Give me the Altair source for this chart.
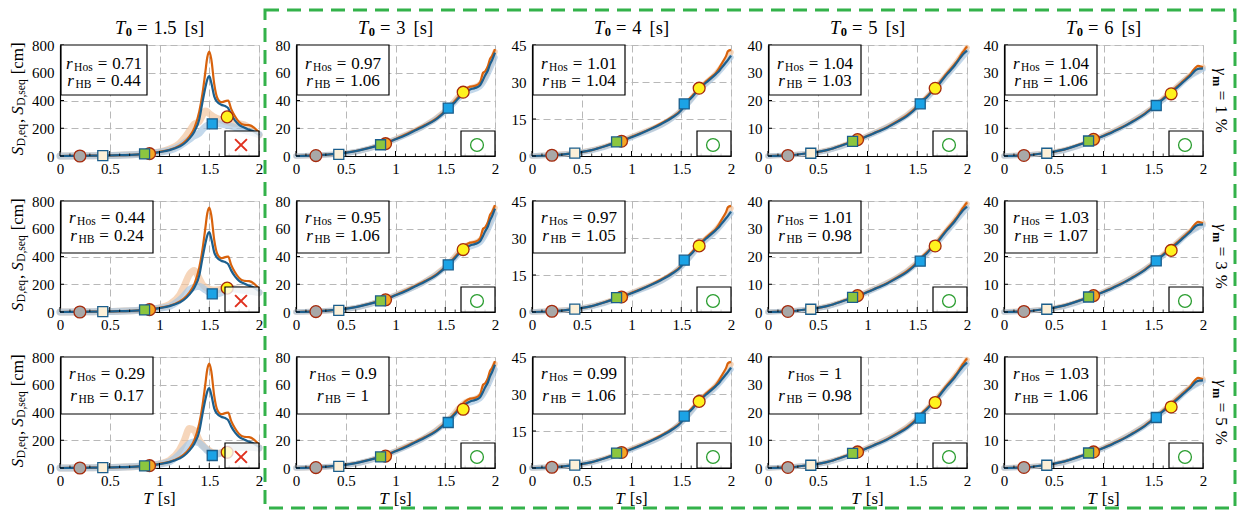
import altair as alt
import pandas as pd

FONT = "Liberation Serif"
W, H = 199, 111
COL_GAP, ROW_GAP = 37, 45

T0_VALUES = ["1.5", "3", "4", "5", "6"]
GAMMA_VALUES = ["1", "3", "5"]
Y_MAX = [800, 80, 45, 40, 40]
Y_TICKS = [[0, 200, 400, 600, 800], [0, 20, 40, 60, 80], [0, 15, 30, 45],
           [0, 10, 20, 30, 40], [0, 10, 20, 30, 40]]
X_MAJOR = [0, 0.5, 1, 1.5, 2]
X_MINOR = [0.1, 0.2, 0.3, 0.4, 0.6, 0.7, 0.8, 0.9, 1.1, 1.2, 1.3, 1.4, 1.6, 1.7, 1.8, 1.9]

R_HOS = [["0.71", "0.97", "1.01", "1.04", "1.04"],
         ["0.44", "0.95", "0.97", "1.01", "1.03"],
         ["0.29", "0.9", "0.99", "1", "1.03"]]
R_HB = [["0.44", "1.06", "1.04", "1.03", "1.06"],
        ["0.24", "1.06", "1.05", "0.98", "1.07"],
        ["0.17", "1", "1.06", "0.98", "1.06"]]
PASS = [False, True, True, True, True]

# ---- T0 = 1.5 s : spectra
T_A = [0, 0.2, 0.4, 0.6, 0.8, 0.9, 1.0, 1.1, 1.2, 1.25, 1.3, 1.35, 1.4, 1.43, 1.46, 1.48,
       1.5, 1.52, 1.55, 1.58, 1.62, 1.66, 1.69, 1.72, 1.76, 1.8, 1.85, 1.9, 1.95, 2.0]
SEQ_A = [0, 1, 3, 6, 12, 18, 30, 45, 75, 100, 140, 200, 320, 440, 600, 710,
         752, 700, 520, 420, 388, 395, 400, 340, 285, 245, 225, 222, 205, 170]
EQ_A = [0, 1, 3, 6, 12, 17, 28, 42, 68, 90, 125, 175, 265, 380, 490, 550,
        575, 530, 430, 390, 370, 360, 345, 300, 255, 225, 205, 190, 175, 150]
BAND_SEQ_A = [
    [0, 1, 3, 6, 12, 18, 30, 50, 90, 130, 180, 230, 250, 290, 325, 320,
     305, 295, 280, 270, 260, 250, 245, 240, 235, 232, 225, 205, 180, 150],
    [0, 1, 3, 6, 12, 18, 30, 55, 120, 190, 270, 300, 240, 200, 180, 170,
     165, 160, 158, 160, 165, 172, 175, 172, 168, 165, 160, 155, 148, 140],
    [0, 1, 3, 6, 12, 18, 30, 55, 130, 200, 285, 270, 200, 170, 145, 135,
     125, 115, 108, 105, 110, 120, 130, 140, 148, 150, 150, 150, 148, 145],
]
BAND_EQ_A = [
    [0, 1, 3, 6, 12, 17, 28, 40, 70, 95, 120, 145, 165, 190, 210, 220,
     225, 230, 235, 235, 230, 225, 220, 215, 205, 195, 185, 175, 165, 155],
    [0, 1, 3, 6, 12, 17, 28, 40, 85, 120, 160, 180, 185, 175, 160, 150,
     142, 135, 130, 130, 138, 155, 168, 170, 165, 160, 155, 150, 145, 140],
    [0, 1, 3, 6, 12, 17, 28, 45, 100, 140, 175, 190, 180, 160, 140, 125,
     115, 105, 100, 100, 108, 120, 135, 145, 150, 150, 150, 150, 148, 145],
]

# ---- T0 = 3, 4, 5, 6 s : spectra
T_B = [0, 0.2, 0.4, 0.6, 0.8, 0.9, 1.0, 1.1, 1.2, 1.3, 1.4, 1.5, 1.55, 1.6, 1.65,
       1.7, 1.75, 1.8, 1.85, 1.88, 1.9, 1.93, 1.95, 1.97, 2.0]
EQ_B = [
    [0, 0.5, 1.5, 3.5, 7, 9, 12, 15, 18.5, 22, 26, 32, 35.5, 39, 43, 46, 48, 49, 51, 55, 58, 62, 66, 69, 74.5],
    [0, 0.3, 1.1, 2.4, 4.8, 6.0, 7.6, 9.2, 11, 13, 15.3, 18.5, 21.5, 23.5, 25.8, 27.8, 29.8, 31.5, 33.3, 34.5, 35.5, 37, 38, 39, 40.7],
    [0, 0.2, 1.0, 2.2, 4.5, 5.6, 7.2, 8.7, 10.3, 12.3, 14.5, 17.6, 19.6, 21.3, 23.3, 25, 27.3, 29.5, 31.5, 32.8, 33.8, 35.3, 36.2, 37, 38],
    [0, 0.2, 1.0, 2.3, 4.6, 5.8, 7.2, 8.8, 10.5, 12.5, 14.7, 17.5, 19, 20.5, 22, 23.5, 25, 26.6, 28.2, 29.2, 30, 31, 31.4, 31.5, 31.6],
]
SEQ_B = [
    [0, 0.5, 1.5, 3.6, 7.2, 9.3, 12.3, 15.5, 19, 22.5, 26.5, 32.5, 36, 40, 44, 48, 50, 50.5, 53, 60, 61, 65, 70, 72, 77],
    [0, 0.3, 1.1, 2.4, 4.9, 6.1, 7.8, 9.4, 11.2, 13.3, 15.6, 18.8, 21.8, 23.9, 26.2, 28.3, 30.3, 32, 33.8, 35.5, 37, 39, 40.5, 42.5, 43],
    [0, 0.2, 1.0, 2.2, 4.6, 5.7, 7.3, 8.8, 10.5, 12.5, 14.8, 17.9, 19.9, 21.6, 23.6, 25.4, 27.7, 29.9, 32, 33.3, 34.2, 35.8, 37, 38, 39.5],
    [0, 0.2, 1.0, 2.3, 4.7, 5.9, 7.3, 8.9, 10.6, 12.7, 14.9, 17.7, 19.2, 20.8, 22.3, 23.9, 25.4, 27, 28.6, 29.8, 30.8, 32, 32.5, 32.3, 32],
]
T_BAND = [0, 0.5, 1, 1.5, 1.7, 1.85, 2.0]
BAND_SEQ_B = [[0, 2, 12.3, 32.5, 47.5, 52, 75], [0, 1.6, 7.8, 18.6, 28, 33.5, 42],
              [0, 1.4, 7.3, 17.8, 25.3, 31.8, 39], [0, 1.4, 7.3, 17.6, 23.8, 28.5, 32]]
BAND_EQ_B = [[0, 2, 12, 31.8, 45.5, 50, 71], [0, 1.5, 7.5, 18.3, 27.4, 32.8, 40],
             [0, 1.3, 7.1, 17.5, 24.8, 31.2, 37.5], [0, 1.3, 7.1, 17.4, 23.4, 28.2, 31.3]]

# ---- period markers
MARK_T = [0.2, 0.43, 0.85, 0.9, 1.53, 1.68]
MARK_SHAPE = ["circle", "square", "square", "circle", "square", "circle"]
MARK_FILL = ["#a8a8a8", "#fcf0d8", "#8cc63f", "#f6a623", "#1ba3e6", "#fff21e"]
MARK_EDGE = ["#a52a0c", "#1b5e8c", "#1b5e8c", "#a52a0c", "#1b5e8c", "#a52a0c"]
MARK_V = [
    [[0, 2, 15, 17, 232, 282], [0.3, 1.2, 8.1, 8.9, 34.5, 46], [0.3, 1.2, 5.7, 6.0, 21.1, 27.5],
     [0.2, 1.0, 5.3, 5.9, 18.8, 24.4], [0.2, 1.0, 5.4, 6.0, 18.2, 22.4]],
    [[0, 2, 15, 17, 131, 172], [0.3, 1.2, 8, 8.8, 34, 45], [0.3, 1.2, 5.8, 6.1, 21, 26.8],
     [0.2, 1.0, 5.3, 5.9, 18.3, 23.8], [0.2, 1.0, 5.4, 5.9, 18.4, 22.2]],
    [[0, 2, 15, 17, 90, 113], [0.3, 1.2, 8, 8.6, 32.8, 42.3], [0.3, 1.2, 6, 6.3, 21, 27],
     [0.2, 1.0, 5.3, 5.8, 18, 23.6], [0.2, 1.0, 5.4, 5.8, 18.2, 22]],
]

ORANGE = "#d8620c"
BLUE = "#1c5f8e"
BAND_ORANGE = "#f2c49e"
BAND_BLUE = "#a9c8e2"
GRID = "#b8b8b8"

# layout of annotation boxes (pixels, relative to each plot area)
BOX_H = [50, 52, 57]
LINE_Y = [(19, 36), (17, 35), (17, 39)]

CW = {"0": .5, "1": .5, "2": .5, "3": .5, "4": .5, "5": .5, "6": .5, "7": .5, "8": .5, "9": .5,
      ".": .25, ",": .25, " ": .25, "=": .564, "[": .333, "]": .333, "s": .389, "c": .444,
      "m": .8, "%": .833, "e": .444, "q": .5, "D": .722, "H": .722, "o": .5, "B": .667,
      "S": .5, "T": .556, "r": .389, "γ": .45}


def twidth(s, size):
    return sum(CW.get(ch, .5) for ch in s) * size


def compose(pieces, cx, cy, angle=0):
    """pieces: (text, size, style, weight, shift, gap_before)"""
    widths = [twidth(p[0], p[1]) for p in pieces]
    total = sum(widths) + sum(p[5] for p in pieces)
    pos = -total / 2
    rows = []
    for p, w in zip(pieces, widths):
        pos += p[5]
        if angle == 0:
            x, y = cx + pos, cy + p[4]
        elif angle == 90:
            x, y = cx - p[4], cy + pos
        else:
            x, y = cx + p[4], cy - pos
        rows.append(dict(px=x, py=y, text=p[0], size=p[1], style=p[2], weight=p[3], angle=angle))
        pos += w
    return rows


def text_layers(rows):
    df = pd.DataFrame(rows)
    out = []
    for (style, weight), g in df.groupby(["style", "weight"]):
        out.append(
            alt.Chart(g.reset_index(drop=True)).mark_text(
                font=FONT, align="left", baseline="middle", fontStyle=style,
                fontWeight=weight, color="black"
            ).encode(
                x=alt.X("px:Q", scale=None),
                y=alt.Y("py:Q", scale=None),
                text="text:N",
                size=alt.Size("size:Q", scale=None, legend=None),
                angle=alt.Angle("angle:Q", scale=None, legend=None),
            )
        )
    return out


def px_rect(x0, x1, y0, y1, **mark):
    df = pd.DataFrame({"x0": [x0], "x1": [x1], "y0": [y0], "y1": [y1]})
    return alt.Chart(df).mark_rect(**mark).encode(
        x=alt.X("x0:Q", scale=None), x2="x1:Q",
        y=alt.Y("y0:Q", scale=None), y2="y1:Q")


def px_point(x, y, **mark):
    df = pd.DataFrame({"x": [x], "y": [y]})
    return alt.Chart(df).mark_point(**mark).encode(
        x=alt.X("x:Q", scale=None), y=alt.Y("y:Q", scale=None))


def panel(r, c):
    xs = alt.Scale(domain=[0, 2], nice=False, zero=False)
    ys = alt.Scale(domain=[0, Y_MAX[c]], nice=False, zero=False)
    xaxis = alt.Axis(values=X_MAJOR, format="~g", grid=True, gridDash=[7, 4], gridColor=GRID,
                     gridWidth=1, ticks=False, domainColor="black", domainWidth=1.2,
                     labelFont=FONT, labelFontSize=15, labelColor="black", labelPadding=5,
                     labelFlush=False, labelOverlap=False, title=None)
    yaxis = alt.Axis(values=Y_TICKS[c], grid=True, gridDash=[7, 4], gridColor=GRID,
                     gridWidth=1, ticks=False, domainColor="black", domainWidth=1.2,
                     labelFont=FONT, labelFontSize=15, labelColor="black", labelPadding=6,
                     labelFlush=False, labelOverlap=False, title=None)

    def X():
        return alt.X("T:Q", scale=xs, axis=xaxis)

    def Y():
        return alt.Y("v:Q", scale=ys, axis=yaxis)

    if c == 0:
        band_s = pd.DataFrame({"T": T_A, "v": BAND_SEQ_A[r]})
        band_e = pd.DataFrame({"T": T_A, "v": BAND_EQ_A[r]})
        seq = pd.DataFrame({"T": T_A, "v": SEQ_A})
        eq = pd.DataFrame({"T": T_A, "v": EQ_A})
        bw_line = 7
    else:
        band_s = pd.DataFrame({"T": T_BAND, "v": BAND_SEQ_B[c - 1]})
        band_e = pd.DataFrame({"T": T_BAND, "v": BAND_EQ_B[c - 1]})
        seq = pd.DataFrame({"T": T_B, "v": SEQ_B[c - 1]})
        eq = pd.DataFrame({"T": T_B, "v": EQ_B[c - 1]})
        bw_line = 5.5

    marks = pd.DataFrame({"T": MARK_T, "v": MARK_V[r][c], "shape": MARK_SHAPE,
                          "fill": MARK_FILL, "edge": MARK_EDGE})

    layers = [
        alt.Chart(band_s).mark_line(color=BAND_ORANGE, strokeWidth=bw_line, opacity=0.7,
                                    interpolate="monotone", strokeCap="round").encode(x=X(), y=Y()),
        alt.Chart(band_e).mark_line(color=BAND_BLUE, strokeWidth=bw_line, opacity=0.7,
                                    interpolate="monotone", strokeCap="round").encode(x=X(), y=Y()),
        alt.Chart(seq).mark_line(color=ORANGE, strokeWidth=2.2, interpolate="monotone").encode(x=X(), y=Y()),
        alt.Chart(eq).mark_line(color=BLUE, strokeWidth=2.2, interpolate="monotone").encode(x=X(), y=Y()),
        alt.Chart(pd.DataFrame({"T": X_MAJOR})).mark_rule(color="black", strokeWidth=1).encode(
            x=X(), y=alt.value(H), y2=alt.value(H - 5)),
        alt.Chart(pd.DataFrame({"T": X_MINOR})).mark_rule(color="black", strokeWidth=0.8).encode(
            x=X(), y=alt.value(H), y2=alt.value(H - 2.5)),
        alt.Chart(pd.DataFrame({"v": Y_TICKS[c]})).mark_rule(color="black", strokeWidth=1).encode(
            y=Y(), x=alt.value(0), x2=alt.value(4)),
        alt.Chart(marks[marks["shape"] == "circle"]).mark_point(
            shape="circle", filled=True, size=140, strokeWidth=1.3, opacity=1).encode(
            x=X(), y=Y(), fill=alt.Fill("fill:N", scale=None), stroke=alt.Stroke("edge:N", scale=None)),
        alt.Chart(marks[marks["shape"] == "square"]).mark_point(
            shape="square", filled=True, size=100, strokeWidth=1.3, opacity=1).encode(
            x=X(), y=Y(), fill=alt.Fill("fill:N", scale=None), stroke=alt.Stroke("edge:N", scale=None)),
    ]

    # upper-left ratio box
    bw = 86 if (r == 0 and c == 0) else 92
    bh = BOX_H[r]
    layers.append(px_rect(1, 1 + bw, 0, bh, fill="white", stroke="black", strokeWidth=1.2))
    # lower-right verdict box
    layers.append(px_rect(W - 34, W, H - 25, H, fill="white", fillOpacity=0.78,
                          stroke="black", strokeWidth=1.2))
    if PASS[c]:
        layers.append(px_point(W - 18, H - 11, shape="circle", filled=False, size=165,
                               stroke="#2a9d2f", strokeWidth=1.3, opacity=1))
    else:
        layers.append(px_point(W - 18, H - 11, shape="M -1 -1 L 1 1 M -1 1 L 1 -1", filled=False,
                               size=140, stroke="#e0301e", strokeWidth=2, opacity=1))

    rows = []
    cx = 1 + bw / 2
    y1, y2 = LINE_Y[r]
    rows += compose([("r", 17, "italic", "normal", 0, 0), ("Hos", 11.5, "normal", "normal", 4, 1.5),
                     ("=", 17, "normal", "normal", 0, 5), (R_HOS[r][c], 17, "normal", "normal", 0, 5)], cx, y1)
    rows += compose([("r", 17, "italic", "normal", 0, 0), ("HB", 11.5, "normal", "normal", 4, 1.5),
                     ("=", 17, "normal", "normal", 0, 5), (R_HB[r][c], 17, "normal", "normal", 0, 5)], cx, y2)
    if r == 0:
        rows += compose([("T", 18.5, "italic", "normal", 0, 0), ("0", 12.5, "normal", "bold", 4, 0.5),
                         ("=", 18.5, "normal", "normal", 0, 5), (T0_VALUES[c], 18.5, "normal", "normal", 0, 6),
                         ("[s]", 18.5, "normal", "normal", 0, 8)], W / 2, -17)
    if r == 2:
        rows += compose([("T", 17, "italic", "normal", 0, 0), ("[s]", 17, "normal", "normal", 0, 5)],
                        W / 2, H + 31)
    if c == 0:
        rows += compose([("S", 17, "italic", "normal", 0, 0), ("D,eq", 11.5, "normal", "normal", 4, 0.5),
                         (",", 17, "normal", "normal", 0, 1), ("S", 17, "italic", "normal", 0, 4),
                         ("D,seq", 11.5, "normal", "normal", 4, 0.5), ("[cm]", 17, "normal", "normal", 0, 5)],
                        -42, H / 2 - 2, angle=270)
    if c == 4:
        rows += compose([("γ", 17, "italic", "normal", 0, 0), ("m", 12, "normal", "bold", 4, 0.5),
                         ("=", 17, "normal", "normal", 0, 5), (GAMMA_VALUES[r], 17, "normal", "normal", 0, 5),
                         ("%", 17, "normal", "normal", 0, 5)], W + 18, H / 2, angle=90)
    layers += text_layers(rows)

    if r == 0 and c == 1:
        layers.append(px_rect(-31, 939, -35, 463, fillOpacity=0, stroke="#33b24a",
                              strokeWidth=3, strokeDash=[14, 8]))

    return alt.layer(*layers).properties(width=W, height=H)


panels = [panel(r, c) for r in range(3) for c in range(5)]
chart = alt.concat(*panels, columns=5, spacing={"row": ROW_GAP, "column": COL_GAP},
                   bounds="flush", padding=0).configure_view(stroke=None).configure(font=FONT)

chart.save("out.html", embed_options={"renderer": "svg", "actions": False})
